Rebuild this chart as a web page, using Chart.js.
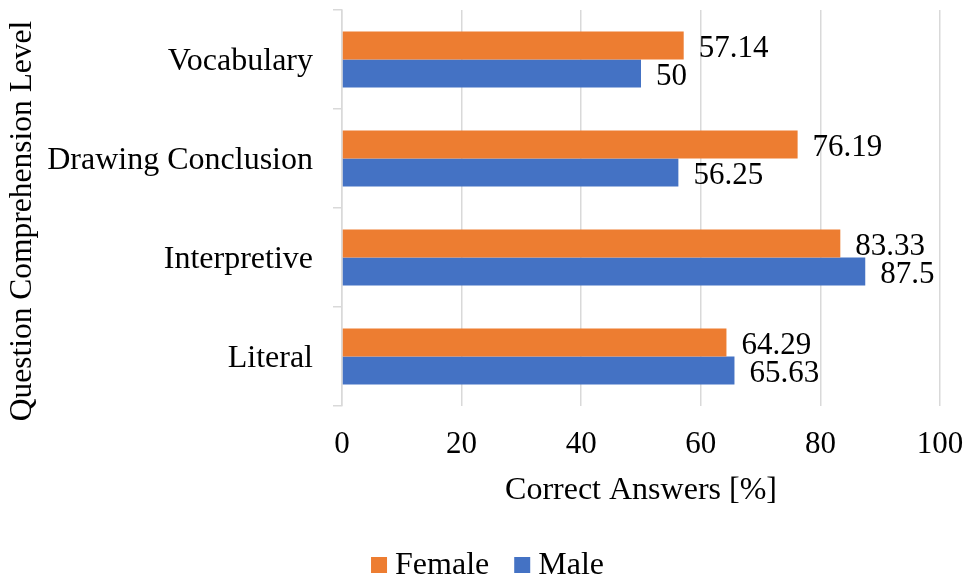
<!DOCTYPE html>
<html>
<head>
<meta charset="utf-8">
<script src="https://cdn.jsdelivr.net/npm/chart.js@4/dist/chart.umd.min.js"></script>
<style>
  html, body { margin: 0; padding: 0; background: #fff; }
  #wrap { width: 968px; height: 580px; }
</style>
</head>
<body>
<div id="wrap"><canvas id="myChart"></canvas></div>
<script>
  const categories = ['Vocabulary', 'Drawing Conclusion', 'Interpretive', 'Literal'];
  const female = [57.14, 76.19, 83.33, 64.29];
  const male = [50, 56.25, 87.5, 65.63];
  const xTicks = [0, 20, 40, 60, 80, 100];

  const serif = '"Liberation Serif", "Times New Roman", serif';
  const yTitle = 'Question Comprehension Level';

  // value next to the end of every bar, y title and the bottom legend
  const extras = {
    id: 'extras',
    afterDatasetsDraw(chart) {
      const ctx = chart.ctx;
      ctx.save();
      ctx.font = '31px ' + serif;
      ctx.fillStyle = '#000';
      ctx.textAlign = 'left';
      ctx.textBaseline = 'middle';
      chart.data.datasets.forEach((ds, i) => {
        chart.getDatasetMeta(i).data.forEach((bar, j) => {
          ctx.fillText(String(ds.data[j]), bar.x + 15, bar.y + 3);
        });
      });
      ctx.restore();
    },
    afterDraw(chart) {
      const ctx = chart.ctx;
      ctx.save();
      // rotated y axis title
      ctx.font = '31.5px ' + serif;
      ctx.fillStyle = '#000';
      ctx.translate(23, 221);
      ctx.rotate(-Math.PI / 2);
      ctx.textAlign = 'center';
      ctx.textBaseline = 'middle';
      ctx.fillText(yTitle, 0, 0);
      ctx.restore();

      // legend
      ctx.save();
      ctx.font = '32px ' + serif;
      ctx.textBaseline = 'middle';
      ctx.textAlign = 'left';
      const box = 16, gap = 8, itemGap = 25, cy = 565;
      const items = chart.data.datasets.map(ds => ({ text: ds.label, color: ds.backgroundColor, w: ctx.measureText(ds.label).width }));
      let total = 0;
      items.forEach((it, k) => { total += box + gap + it.w + (k ? itemGap : 0); });
      let x = 487.5 - total / 2;
      items.forEach((it, k) => {
        if (k) x += itemGap;
        ctx.fillStyle = it.color;
        ctx.fillRect(x, cy - box / 2, box, box);
        x += box + gap;
        ctx.fillStyle = '#000';
        ctx.fillText(it.text, x, cy + 1);
        x += it.w;
      });
      ctx.restore();
    }
  };

  const data = {
    labels: categories,
    datasets: [{
      label: 'Female',
      backgroundColor: '#ED7D31',
      data: female,
    }, {
      label: 'Male',
      backgroundColor: '#4472C4',
      data: male,
    }]
  };

  const config = {
    type: 'bar',
    data,
    plugins: [extras],
    options: {
      indexAxis: 'y',
      responsive: true,
      maintainAspectRatio: false,
      animation: false,
      categoryPercentage: 0.567,
      barPercentage: 1,
      layout: { padding: { top: 10, right: 28, left: 0, bottom: 47 } },
      plugins: {
        tooltip: { enabled: false },
        legend: { display: false }
      },
      scales: {
        x: {
          min: 0,
          max: 100,
          afterBuildTicks: (s) => { s.ticks = xTicks.map(v => ({ value: v })); },
          grid: { color: '#d9d9d9', lineWidth: 1.5, drawTicks: false },
          border: { display: false },
          ticks: { font: { family: serif, size: 31 }, color: '#000', padding: 20 },
          title: {
            display: true,
            text: 'Correct Answers [%]',
            font: { family: serif, size: 32 },
            color: '#000',
            padding: { top: 10, bottom: 23 }
          },
          afterFit: (s) => { s.height = 127; s.paddingLeft = 0; s.paddingRight = 0; }
        },
        y: {
          grid: { drawOnChartArea: false, color: '#d9d9d9', lineWidth: 1.5, tickLength: 9 },
          border: { color: '#d9d9d9', width: 1.5 },
          ticks: { font: { family: serif, size: 32 }, color: '#000', padding: 20, labelOffset: 2 },
          afterFit: (s) => { s.width = 342; s.paddingTop = 0; s.paddingBottom = 0; }
        }
      }
    }
  };

  var myChart = new Chart(document.getElementById('myChart'), config);
</script>
</body>
</html>
